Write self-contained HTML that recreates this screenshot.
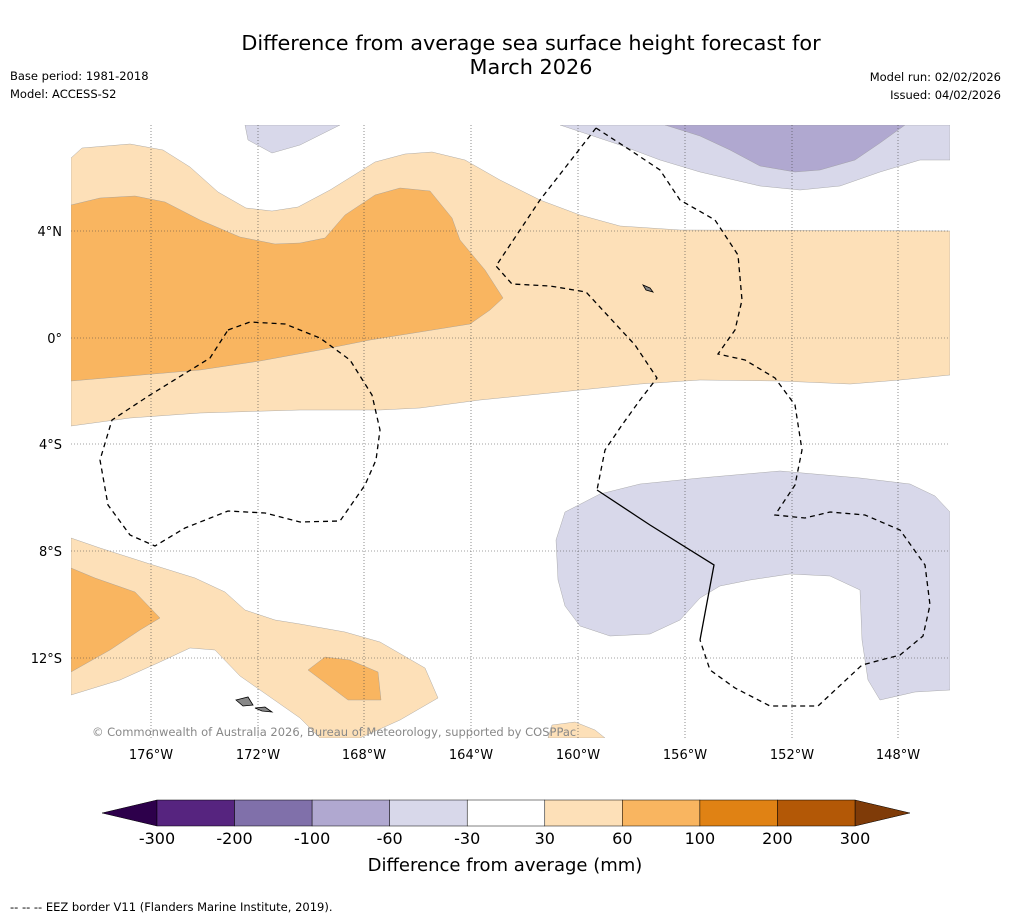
<!DOCTYPE html>
<html><head><meta charset="utf-8"><style>
body{margin:0;background:#fff;font-family:"DejaVu Sans",sans-serif;}
svg{display:block;font-family:"DejaVu Sans",sans-serif;}
</style></head><body>
<svg width="1011" height="919" viewBox="0 0 1011 919">
<rect width="1011" height="919" fill="#fff"/>
<text x="531" y="50" text-anchor="middle" font-size="20.8">Difference from average sea surface height forecast for</text>
<text x="531" y="74" text-anchor="middle" font-size="20.8">March 2026</text>
<text x="10" y="80" font-size="11.5">Base period: 1981-2018</text>
<text x="10" y="98" font-size="11.5">Model: ACCESS-S2</text>
<text x="1001" y="81" font-size="11.5" text-anchor="end">Model run: 02/02/2026</text>
<text x="1001" y="99" font-size="11.5" text-anchor="end">Issued: 04/02/2026</text>
<g>
<clipPath id="mc"><rect x="71" y="125" width="879" height="613"/></clipPath>
<g clip-path="url(#mc)" stroke="#999" stroke-width="0.4">
<path fill="#fde0b8" d="M71,158 L82,148 L130,144 L163,150 L190,167 L218,192 L246,208 L272,211 L298,207 L330,190 L375,162 L405,154 L432,152 L465,160 L500,180 L540,200 L580,215 L620,226 L680,230 L950,231 L950,375 L900,380 L850,384 L780,381 L700,380 L640,384 L560,392 L480,400 L420,408 L380,410 L300,410 L200,413 L130,418 L71,426 Z"/>
<path fill="#f9b560" d="M71,205 L100,198 L135,196 L165,202 L200,220 L240,237 L275,244 L300,243 L325,238 L345,215 L375,195 L400,188 L430,191 L452,218 L460,240 L485,270 L503,298 L490,310 L470,324 L420,332 L370,340 L320,350 L260,361 L200,370 L130,376 L71,381 Z"/>
<path fill="#d8d8ea" d="M245,125 L340,125 L300,145 L272,153 L248,140 Z"/>
<path fill="#d8d8ea" d="M560,125 L950,125 L950,160 L920,160 L880,172 L840,186 L800,190 L760,186 L700,172 L660,160 L620,145 Z"/>
<path fill="#b0a8d0" d="M665,125 L905,125 L880,143 L855,160 L820,170 L795,172 L760,166 L730,150 L700,136 Z"/>
<path fill="#d8d8ea" d="M565,512 L600,494 L640,484 L700,478 L780,471 L860,478 L910,484 L935,496 L950,512 L950,690 L915,692 L880,700 L868,680 L862,640 L860,590 L830,576 L790,574 L750,580 L720,586 L700,598 L680,620 L650,634 L610,636 L580,626 L565,606 L558,580 L556,540 Z"/>
<path fill="#fde0b8" d="M71,538 L100,548 L150,564 L195,578 L225,592 L245,610 L275,620 L300,624 L345,632 L380,642 L425,668 L438,698 L400,720 L360,738 L320,738 L300,718 L240,676 L215,650 L190,648 L160,662 L120,680 L71,695 Z"/>
<path fill="#f9b560" d="M71,568 L95,578 L135,592 L160,618 L140,630 L110,650 L71,672 Z"/>
<path fill="#f9b560" d="M308,670 L325,657 L350,660 L378,672 L381,700 L348,700 Z"/>
<path fill="#fde0b8" d="M548,738 L552,725 L575,722 L595,730 L605,738 Z"/>
</g>
<g stroke="#444" stroke-width="0.6" stroke-dasharray="1,2">
<line x1="151" y1="125" x2="151" y2="738"/><line x1="258" y1="125" x2="258" y2="738"/><line x1="364" y1="125" x2="364" y2="738"/><line x1="471" y1="125" x2="471" y2="738"/><line x1="578" y1="125" x2="578" y2="738"/><line x1="685" y1="125" x2="685" y2="738"/><line x1="792" y1="125" x2="792" y2="738"/><line x1="898" y1="125" x2="898" y2="738"/>
<line x1="71" y1="231" x2="950" y2="231"/><line x1="71" y1="338" x2="950" y2="338"/><line x1="71" y1="444" x2="950" y2="444"/><line x1="71" y1="551" x2="950" y2="551"/><line x1="71" y1="658" x2="950" y2="658"/>
</g>
<g fill="none" stroke="#000" stroke-width="1.3" stroke-dasharray="5,4">
<path d="M228,330 L250,322 L285,324 L320,338 L350,360 L372,395 L380,430 L376,460 L365,485 L340,521 L300,522 L265,513 L228,511 L185,528 L155,546 L130,535 L108,505 L100,460 L112,420 L150,395 L210,358 Z"/>
<path d="M596,128 L630,150 L660,170 L680,200 L715,220 L738,255 L742,300 L735,330 L718,354 L745,360 L775,378 L795,405 L802,450 L795,485 L775,515 L805,518 L830,512 L865,515 L900,530 L925,565 L930,605 L923,636 L900,655 L862,665 L818,706 L770,706 L735,688 L710,670 L700,640"/>
<path d="M596,128 L540,200 L496,266 L512,284 L550,286 L586,292 L610,318 L635,345 L657,378 L640,400 L622,425 L605,450 L597,490"/>
</g>
<path d="M597,490 L650,525 L714,565 L700,640" fill="none" stroke="#000" stroke-width="1.3"/>
<g fill="#888" stroke="#000" stroke-width="0.8">
<path d="M236,700 L248,697 L253,705 L243,706 Z"/><path d="M255,708 L265,707 L272,712 L262,711 Z"/>
<path d="M643,285 L650,288 L653,292 L646,290 Z"/>
</g>
<text x="92" y="736" font-size="11.5" fill="#888">© Commonwealth of Australia 2026, Bureau of Meteorology, supported by COSPPac</text>
<g font-size="13">
<text x="151" y="759" text-anchor="middle">176°W</text><text x="258" y="759" text-anchor="middle">172°W</text><text x="364" y="759" text-anchor="middle">168°W</text><text x="471" y="759" text-anchor="middle">164°W</text><text x="578" y="759" text-anchor="middle">160°W</text><text x="685" y="759" text-anchor="middle">156°W</text><text x="792" y="759" text-anchor="middle">152°W</text><text x="898" y="759" text-anchor="middle">148°W</text>
<text x="62" y="236" text-anchor="end">4°N</text><text x="62" y="343" text-anchor="end">0°</text><text x="62" y="449" text-anchor="end">4°S</text><text x="62" y="556" text-anchor="end">8°S</text><text x="62" y="663" text-anchor="end">12°S</text>
</g>
</g>
<g id="cbar"></g>
<text x="505" y="871" text-anchor="middle" font-size="18">Difference from average (mm)</text>
<text x="10" y="911" font-size="11.5">--  --  -- EEZ border V11 (Flanders Marine Institute, 2019).</text>
</svg>
<script>
const cbTicks=["-300","-200","-100","-60","-30","30","60","100","200","300"];
const cbColors=["#56247f","#8070aa","#b0a8d0","#d8d8ea","#ffffff","#fde0b8","#f9b560","#e08214","#b35806"];
const ns="http://www.w3.org/2000/svg";
const g=document.getElementById('cbar');
const x0=157,x1=855,y0=800,h=26,w=(x1-x0)/cbColors.length;
function mk(t,a){const e=document.createElementNS(ns,t);for(const k in a)e.setAttribute(k,a[k]);g.appendChild(e);return e;}
let l=mk('polygon',{points:`${x0},${y0} ${x0},${y0+h} 102,${y0+h/2}`,fill:'#2d004b',stroke:'#000','stroke-width':0.5});


let r=mk('polygon',{points:`${x1},${y0} ${x1},${y0+h} 910,${y0+h/2}`,fill:'#7f3b08',stroke:'#000','stroke-width':0.5});


cbColors.forEach((c,i)=>{const e=mk('rect',{x:x0+i*w,y:y0,width:w,height:h,fill:c,stroke:'#000','stroke-width':0.5});

});
cbTicks.forEach((t,i)=>{const e=mk('text',{x:x0+i*w,y:844,'text-anchor':'middle','font-size':16});e.textContent=t;

});
</script>
</body></html>
